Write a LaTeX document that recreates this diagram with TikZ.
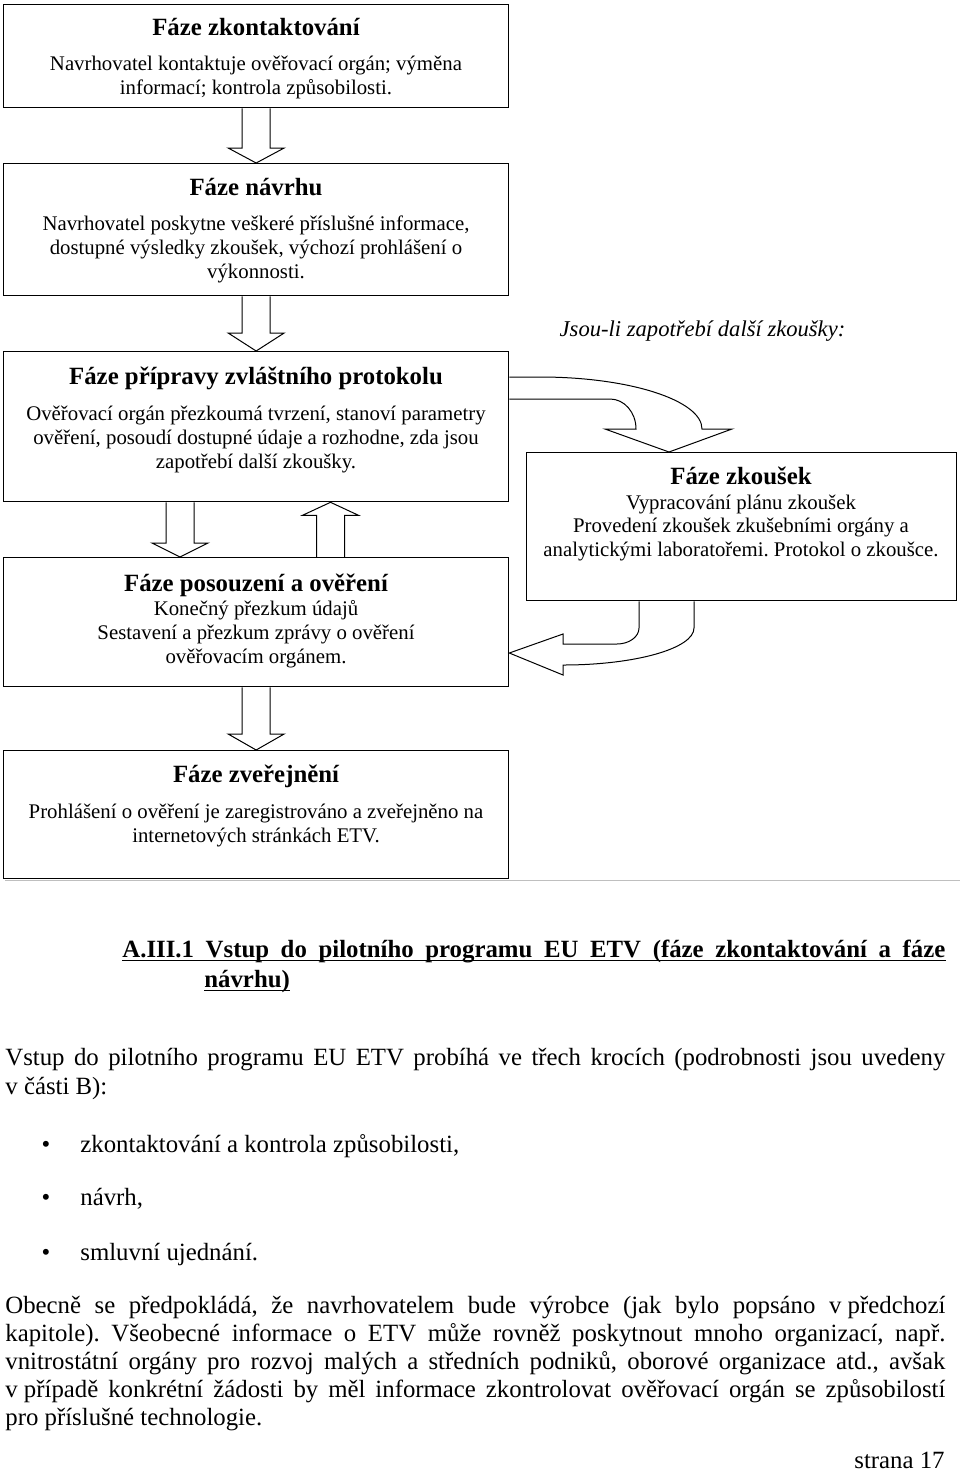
\documentclass[tikz,border=0pt]{standalone}
\usepackage{fontspec}
\setmainfont{Liberation Serif}
\usetikzlibrary{calc,backgrounds}
\frenchspacing
\tikzset{
  box/.style={draw, line width=0.65pt, inner sep=0pt, anchor=north west},
  ttl/.style={anchor=base, inner sep=0pt, font=\fontsize{12.4}{14}\selectfont\bfseries},
  bdy/.style={anchor=base, inner sep=0pt, font=\fontsize{10.4}{12}\selectfont},
  blk/.style={draw, line width=0.5pt, fill=white, line join=miter},
  txt/.style={anchor=base west, inner sep=0pt, font=\fontsize{12.4}{14}\selectfont},
  hdg/.style={anchor=base west, inner sep=0pt, font=\fontsize{12.4}{14}\selectfont\bfseries},
  note/.style={anchor=base, inner sep=0pt, font=\fontsize{11.3}{13}\selectfont\itshape},
}
% block arrow: #1 start, #2 tip, #3 head length (pt)
\newcommand\blkarrow[3]{%
  \filldraw[blk] let \p1=#1, \p2=#2, \n1={sign(\y1-\y2)*#3} in
    (\x2-7pt,\y1) -- (\x2-7pt,{\y2+\n1*1pt}) -- (\x2-14pt,{\y2+\n1*1pt}) -- (\x2,\y2)
    -- (\x2+14pt,{\y2+\n1*1pt}) -- (\x2+7pt,{\y2+\n1*1pt}) -- (\x2+7pt,\y1);}
\begin{document}
\begin{tikzpicture}[x=0.5pt,y=-0.5pt]
\useasboundingbox (0,0) rectangle (960,1474);

% boxes
\node[box, minimum width=252.5pt, minimum height=51.5pt] (b1) at (3,4) {};
\node[box, minimum width=252.5pt, minimum height=66pt]   (b2) at (3,163) {};
\node[box, minimum width=252.5pt, minimum height=75pt]   (b3) at (3,351) {};
\node[box, minimum width=252.5pt, minimum height=64.5pt] (b4) at (3,557) {};
\node[box, minimum width=215pt,   minimum height=74pt]   (bz) at (526,452) {};
\node[box, minimum width=252.5pt, minimum height=64pt]   (b5) at (3,750) {};

\begin{pgfonlayer}{background}
  \fill[white] (0,0) rectangle (960,1474);
  \blkarrow{(b1.south)}{(b2.north)}{7.5}
  \blkarrow{(b2.south)}{(b3.north)}{9}
  \blkarrow{(180,0 |- b3.south)}{(180,0 |- b4.north)}{7}
  \blkarrow{(330.5,0 |- b4.north)}{(330.5,0 |- b3.south)}{6.5}
  \blkarrow{(b4.south)}{(b5.north)}{8}
  % curved arrow to Faze zkousek
  \filldraw[blk] (b3.east |- 0,377) -- (540,377) .. controls (629.5,377) and (702,400.3) .. (702,429)
     -- (732,429) -- (669,0 |- bz.north) -- (605,429) -- (636,429)
     .. controls (636,412.4) and (624.4,399) .. (610,399) -- (b3.east |- 0,399);
  % curved arrow back to posouzeni
  \filldraw[blk] (639,0 |- bz.south) -- (639,628) .. controls (639,636.8) and (629.2,644) .. (617,644)
     -- (563,644) -- (563,634) -- (b4.east |- 0,653) -- (563,675) -- (563,665)
     .. controls (635.4,665) and (694,648.4) .. (694,628) -- (694,0 |- bz.south);
\end{pgfonlayer}

% box texts
\node[ttl] (t1) at (256,35) {Fáze zkontaktování};
\node[bdy] (t1a) at (256,70) {Navrhovatel kontaktuje ověřovací orgán; výměna};
\node[bdy] (t1b) at (256,94) {informací; kontrola způsobilosti.};

\node[ttl] (t2) at (256,195) {Fáze návrhu};
\node[bdy] (t2a) at (256,230) {Navrhovatel poskytne veškeré příslušné informace,};
\node[bdy] (t2b) at (256,254) {dostupné výsledky zkoušek, výchozí prohlášení o};
\node[bdy] (t2c) at (256,278) {výkonnosti.};

\node[ttl] (t3) at (256,384) {Fáze přípravy zvláštního protokolu};
\node[bdy] (t3a) at (256,420) {Ověřovací orgán přezkoumá tvrzení, stanoví parametry};
\node[bdy] (t3b) at (256,444) {ověření, posoudí dostupné údaje a rozhodne, zda jsou};
\node[bdy] (t3c) at (256,468) {zapotřebí další zkoušky.};

\node[ttl] (t4) at (256,591) {Fáze posouzení a ověření};
\node[bdy] (t4a) at (256,615) {Konečný přezkum údajů};
\node[bdy] (t4b) at (256,639) {Sestavení a přezkum zprávy o ověření};
\node[bdy] (t4c) at (256,663) {ověřovacím orgánem.};

\node[ttl] (tz) at (741,484) {Fáze zkoušek};
\node[bdy] (tza) at (741,509) {Vypracování plánu zkoušek};
\node[bdy] (tzb) at (741,532) {Provedení zkoušek zkušebními orgány a};
\node[bdy] (tzc) at (741,556) {analytickými laboratořemi. Protokol o zkoušce.};

\node[ttl] (t5) at (256,782) {Fáze zveřejnění};
\node[bdy] (t5a) at (256,818) {Prohlášení o ověření je zaregistrováno a zveřejněno na};
\node[bdy] (t5b) at (256,842) {internetových stránkách ETV.};

\node[note] (nt) at (702.5,336) {Jsou-li zapotřebí další zkoušky:};

% separator
\draw[black!25, line width=0.5pt] (5,880) -- (960,880);

% heading
\node[hdg] (h1) at (122,957) {\makebox[411.5pt][s]{A.III.1 Vstup do pilotního programu EU ETV (fáze zkontaktování a fáze}};
\node[hdg] (h2) at (204,987) {návrhu)};
\draw[line width=0.7pt] ([yshift=-1.6pt]h1.base west) -- ([yshift=-1.6pt]h1.base east);
\draw[line width=0.7pt] ([yshift=-1.6pt]h2.base west) -- ([yshift=-1.6pt]h2.base east);

% paragraph 1
\node[txt] (p1a) at (5,1065) {\makebox[470pt][s]{Vstup do pilotního programu EU ETV probíhá ve třech krocích (podrobnosti jsou uvedeny}};
\node[txt] (p1b) at (5,1094) {v části B):};

% bullets
\node[txt, anchor=base] (u1) at (46,1152) {•};
\node[txt] (l1) at (80,1152) {zkontaktování a kontrola způsobilosti,};
\node[txt, anchor=base] (u2) at (46,1205) {•};
\node[txt] (l2) at (80,1205) {návrh,};
\node[txt, anchor=base] (u3) at (46,1260) {•};
\node[txt] (l3) at (80,1260) {smluvní ujednání.};

% paragraph 2
\node[txt] (q1) at (5,1313) {\makebox[470pt][s]{Obecně se předpokládá, že navrhovatelem bude výrobce (jak bylo popsáno v\hspace{0.25em}předchozí}};
\node[txt] (q2) at (5,1341) {\makebox[470pt][s]{kapitole). Všeobecné informace o ETV může rovněž poskytnout mnoho organizací, např.}};
\node[txt] (q3) at (5,1369) {\makebox[470pt][s]{vnitrostátní orgány pro rozvoj malých a středních podniků, oborové organizace atd., avšak}};
\node[txt] (q4) at (5,1397) {\makebox[470pt][s]{v\hspace{0.25em}případě konkrétní žádosti by měl informace zkontrolovat ověřovací orgán se způsobilostí}};
\node[txt] (q5) at (5,1425) {pro příslušné technologie.};

\node[txt, anchor=base east] (pg) at (945,1468) {strana 17};
\end{tikzpicture}
\end{document}
